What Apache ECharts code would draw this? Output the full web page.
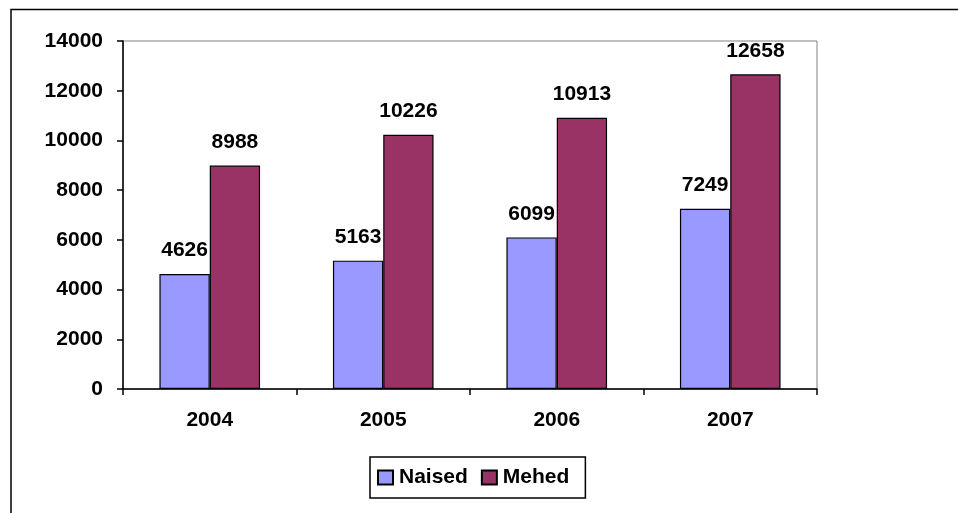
<!DOCTYPE html>
<html><head><meta charset="utf-8">
<script src="https://cdn.jsdelivr.net/npm/echarts@6/dist/echarts.min.js"></script>
<style>html,body{margin:0;padding:0;background:#fff}#c{width:958px;height:513px}</style>
</head><body><div id="c"></div>
<script>
const categories = ['2004','2005','2006','2007'];
const naised = [4626, 5163, 6099, 7249];
const mehed = [8988, 10226, 10913, 12658];
const yTicks = [0, 2000, 4000, 6000, 8000, 10000, 12000, 14000];

const font = 'Liberation Sans, Arial, sans-serif';
const chart = echarts.init(document.getElementById('c'));
const lbl = {show:true, position:'top', distance:13, color:'#000', fontFamily:font, fontWeight:'bold', fontSize:21};
chart.setOption({
  animation:false,
  graphic:[{type:'rect', shape:{x:11, y:9.5, width:960, height:520}, style:{fill:'none', stroke:'#000', lineWidth:1.5}, z:-1}],
  grid:{left:123, right:141, top:41, bottom:124, show:true, borderColor:'#808080', borderWidth:1},
  legend:{
    data:['Naised','Mehed'], left:370, top:457,
    padding:[10,16,10,7], borderColor:'#000', borderWidth:1.5, itemGap:13,
    itemWidth:15, itemHeight:14, icon:'rect',
    textStyle:{fontFamily:font, fontWeight:'bold', fontSize:21, color:'#000', padding:[0,0,0,1]}
  },
  xAxis:{type:'category', data:categories,
    axisLine:{lineStyle:{color:'#000', width:1.5}},
    axisTick:{show:true, length:6, lineStyle:{color:'#000', width:1.5}},
    axisLabel:{color:'#000', fontFamily:font, fontWeight:'bold', fontSize:21, margin:21}
  },
  yAxis:{type:'value', min:yTicks[0], max:yTicks[yTicks.length-1], interval:2000,
    axisLine:{show:true, lineStyle:{color:'#000', width:1.5}},
    axisTick:{show:true, length:6, lineStyle:{color:'#000', width:1.5}},
    splitLine:{show:false},
    axisLabel:{color:'#000', fontFamily:font, fontWeight:'bold', fontSize:21, margin:20, formatter: v => String(v)}
  },
  series:[
    {name:'Naised', type:'bar', data:naised, barGap:'0%', barCategoryGap:'42%',
     itemStyle:{color:'#9999FF', borderColor:'#000', borderWidth:1.2}, label:lbl},
    {name:'Mehed', type:'bar', data:mehed, barGap:'0%', barCategoryGap:'42%',
     itemStyle:{color:'#993366', borderColor:'#000', borderWidth:1.2}, label:lbl}
  ]
});
</script></body></html>
